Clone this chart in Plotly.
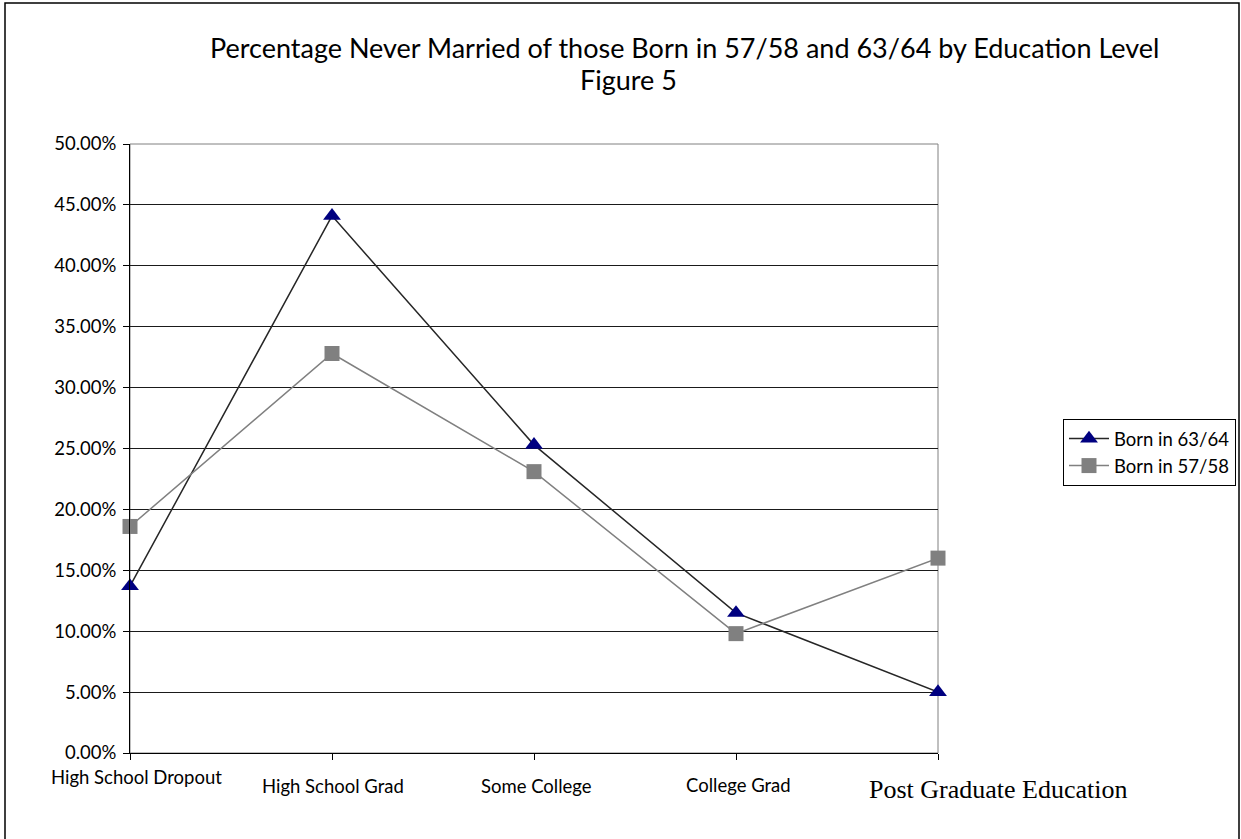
import plotly.graph_objects as go

# Education levels along the x axis
categories = ["High School Dropout", "High School Grad", "Some College",
              "College Grad", "Post Graduate Education"]

# Share never married, by birth cohort
born_6364 = [0.137, 0.441, 0.253, 0.115, 0.050]
born_5758 = [0.186, 0.328, 0.231, 0.098, 0.160]

y_ticks = [i * 0.05 for i in range(11)]

W, H = 1241, 839
L, R, T, B = 130, 303, 144, 86
PW, PH = W - L - R, H - T - B


def px_x(p):
    return (p - L) / PW


def px_y(p):
    return (H - B - p) / PH


SANS = "Lato, Calibri, sans-serif"
SERIF = "Liberation Serif, Times New Roman, serif"
FS = 18.5

fig = go.Figure()
x_idx = list(range(len(categories)))

fig.add_trace(go.Scatter(
    x=x_idx, y=born_6364, name="Born in 63/64", mode="lines+markers",
    line=dict(color="#262626", width=1.5),
    marker=dict(symbol="triangle-up", size=15.5, color="#000080",
                line=dict(width=0)),
    legendgroup="a", cliponaxis=False,
))
fig.add_trace(go.Scatter(
    x=x_idx, y=born_5758, name="Born in 57/58", mode="lines+markers",
    line=dict(color="#808080", width=1.5),
    marker=dict(symbol="square", size=15, color="#808080",
                line=dict(width=0)),
    legendgroup="b", cliponaxis=False,
))

# category labels under the axis
label_fonts = [(SANS, FS), (SANS, FS), (SANS, FS), (SANS, FS), (SERIF, 26)]
label_centers = [136, 333, 536, 738, 998]
label_ys = [777, 786, 786, 785, 789]
annotations = []
for cat, (fam, sz), cx, cy in zip(categories, label_fonts, label_centers, label_ys):
    annotations.append(dict(
        x=px_x(cx), y=px_y(cy), xref="paper", yref="paper", text=cat,
        showarrow=False, xanchor="center", yanchor="middle",
        font=dict(family=fam, size=sz, color="black"),
    ))

annotations.append(dict(
    x=px_x(684), y=px_y(47), xref="paper", yref="paper",
    text="Percentage Never Married of those Born in 57/58 and 63/64 by Education Level",
    showarrow=False, xanchor="center", yanchor="middle",
    font=dict(family=SANS, size=27, color="black"),
))
annotations.append(dict(
    x=px_x(628), y=px_y(80), xref="paper", yref="paper", text="Figure 5",
    showarrow=False, xanchor="center", yanchor="middle",
    font=dict(family=SANS, size=27, color="black"),
))

shapes = [
    # outer chart frame
    dict(type="rect", xref="paper", yref="paper",
         x0=px_x(5), x1=px_x(1239), y0=px_y(845), y1=px_y(3),
         line=dict(color="black", width=1.5), layer="below"),
    # plot area border
    dict(type="rect", xref="paper", yref="paper", x0=0, x1=1, y0=0, y1=1,
         line=dict(color="#808080", width=1), layer="below"),
]

fig.update_layout(
    width=W, height=H,
    margin=dict(l=L, r=R, t=T, b=B, pad=0, autoexpand=False),
    paper_bgcolor="white", plot_bgcolor="white",
    font=dict(family=SANS, size=FS, color="black"),
    showlegend=True,
    legend=dict(
        x=px_x(1063), y=px_y(419), xanchor="left", yanchor="top",
        bordercolor="black", borderwidth=1, bgcolor="white",
        font=dict(family=SANS, size=FS, color="black"),
        tracegroupgap=1, traceorder="normal", itemwidth=40,
    ),
    xaxis=dict(
        range=[0, 4], tickvals=x_idx, showticklabels=False,
        showgrid=False, zeroline=False, showline=True, linecolor="black",
        linewidth=1, ticks="outside", ticklen=6, tickcolor="black",
    ),
    yaxis=dict(
        range=[0, 0.5], tickvals=y_ticks, tickformat=".2%",
        showgrid=True, gridcolor="#1a1a1a", gridwidth=1, zeroline=False,
        showline=True, linecolor="black", linewidth=1,
        ticks="outside", ticklen=6, tickcolor="black",
        ticklabelstandoff=3,
        tickfont=dict(family=SANS, size=FS, color="black"),
    ),
    annotations=annotations,
    shapes=shapes,
)

fig.write_html("out.html")
